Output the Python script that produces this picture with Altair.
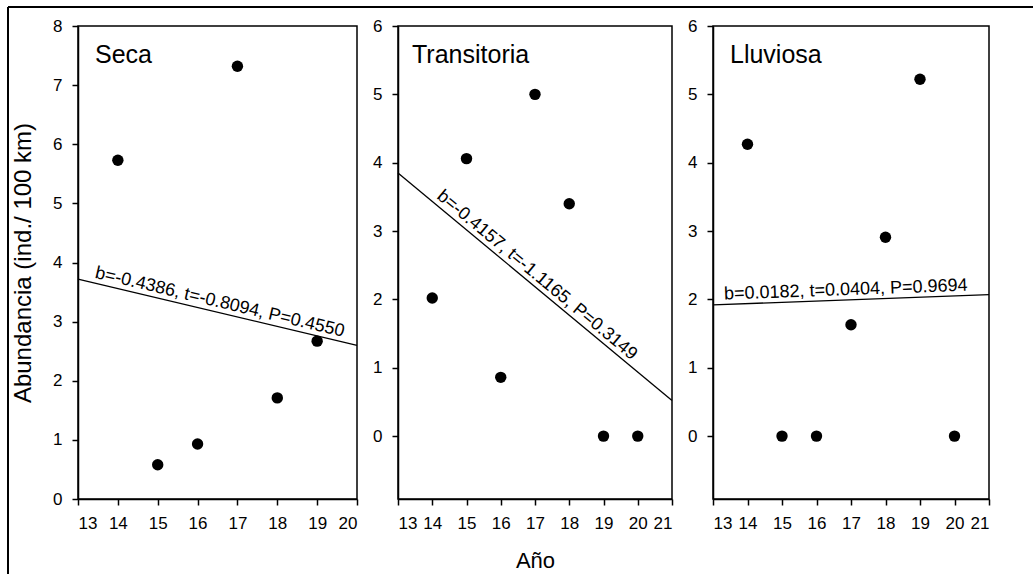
import altair as alt
import pandas as pd

FONT = "Liberation Sans"

# ---- data ----
years_seca = [14, 15, 16, 17, 18, 19]
seca = [5.73, 0.58, 0.93, 7.32, 1.71, 2.67]
years_trans = [14, 15, 16, 17, 18, 19, 20]
transitoria = [2.02, 4.06, 0.86, 5.00, 3.40, 0.00, 0.00]
years_lluv = [14, 15, 16, 17, 18, 19, 20]
lluviosa = [4.27, 0.00, 0.00, 1.63, 2.91, 5.22, 0.00]

fit_seca_x = [13, 20]
fit_seca_y = [3.72, 2.60]
fit_trans_x = [13, 21]
fit_trans_y = [3.85, 0.52]
fit_lluv_x = [13, 21]
fit_lluv_y = [1.92, 2.07]

ann_seca = "b=-0.4386, t=-0.8094, P=0.4550"
ann_trans = "b=-0.4157, t=-1.1165, P=0.3149"
ann_lluv = "b=0.0182, t=0.0404, P=0.9694"
ann_pos_seca = (16.5, 3.16)
ann_pos_trans = (16.87, 2.24)
ann_pos_lluv = (16.86, 1.99)

x_ticks_seca = [13, 14, 15, 16, 17, 18, 19, 20]
x_ticks_other = [13, 14, 15, 16, 17, 18, 19, 20, 21]
y_ticks_seca = [0, 1, 2, 3, 4, 5, 6, 7, 8]
y_ticks_other = [0, 1, 2, 3, 4, 5, 6]

H = 473


def panel(name, xs, ys, fx, fy, ann, ann_pos, angle, xdom, xticks, ydom, yticks,
          width, title_dx, ytitle=None, xtitle=None, frame=False):
    pts = pd.DataFrame({"x": xs, "y": ys})
    fit = pd.DataFrame({"x": fx, "y": fy})
    ann_df = pd.DataFrame({"x": [ann_pos[0]], "y": [ann_pos[1]], "t": [ann]})

    xaxis = alt.Axis(values=xticks, title=xtitle if xtitle else None, format="d")
    yaxis = alt.Axis(values=yticks, title=ytitle if ytitle else None, format="d")
    xenc = alt.X("x:Q", scale=alt.Scale(domain=xdom, nice=False, zero=False), axis=xaxis)
    yenc = alt.Y("y:Q", scale=alt.Scale(domain=ydom, nice=False, zero=False), axis=yaxis)

    points = alt.Chart(pts).mark_circle(size=130, color="black", opacity=1).encode(x=xenc, y=yenc)
    line = alt.Chart(fit).mark_line(color="black", strokeWidth=1.3).encode(x=xenc, y=yenc)
    text = alt.Chart(ann_df).mark_text(
        angle=angle, align="center", baseline="bottom", dy=-1, fontSize=18, font=FONT, color="black"
    ).encode(x=xenc, y=yenc, text="t:N")
    label = alt.Chart(pd.DataFrame({"n": [name]})).mark_text(
        align="left", baseline="alphabetic", fontSize=25, font=FONT, color="black"
    ).encode(x=alt.value(title_dx), y=alt.value(37), text="n:N")

    layers = [points, line, text, label]
    if frame:
        fdf = pd.DataFrame({"k": [0]})
        top = alt.Chart(fdf).mark_rule(color="black", strokeWidth=2, clip=False).encode(
            x=alt.value(-70), x2=alt.value(955), y=alt.value(-19))
        left = alt.Chart(fdf).mark_rule(color="black", strokeWidth=2, clip=False).encode(
            x=alt.value(-70), y=alt.value(-19), y2=alt.value(548))
        layers += [top, left]
    return alt.layer(*layers).properties(width=width, height=H)


p1 = panel("Seca", years_seca, seca, fit_seca_x, fit_seca_y, ann_seca, ann_pos_seca, 13.4,
           [13, 20], x_ticks_seca, [0, 8], y_ticks_seca, 279, 17,
           ytitle="Abundancia (ind./ 100 km)", frame=True)
p2 = panel("Transitoria", years_trans, transitoria, fit_trans_x, fit_trans_y, ann_trans, ann_pos_trans, 39.8,
           [13, 21], x_ticks_other, [-0.92, 6], y_ticks_other, 274, 14, xtitle="Año")
p3 = panel("Lluviosa", years_lluv, lluviosa, fit_lluv_x, fit_lluv_y, ann_lluv, ann_pos_lluv, 357.9,
           [13, 21], x_ticks_other, [-0.92, 6], y_ticks_other, 276, 17)

chart = alt.hconcat(p1, p2, p3, spacing=41, bounds="flush").properties(
    padding={"left": 6, "top": 5, "right": 0, "bottom": 0},
    background="white",
).configure_view(
    stroke="black", strokeWidth=1.5
).configure_axis(
    grid=False,
    domainColor="black", domainWidth=1.5,
    tickColor="black", tickWidth=1.5, tickSize=6,
    labelFont=FONT, labelFontSize=17, labelColor="black", labelPadding=10,
    labelOverlap=False,
    titleFont=FONT, titleFontWeight="normal", titleColor="black",
).configure_axisY(titlePadding=17, titleFontSize=24).configure_axisX(titlePadding=19, titleFontSize=22)

chart.save("out.html", embed_options={"renderer": "svg", "actions": False})
